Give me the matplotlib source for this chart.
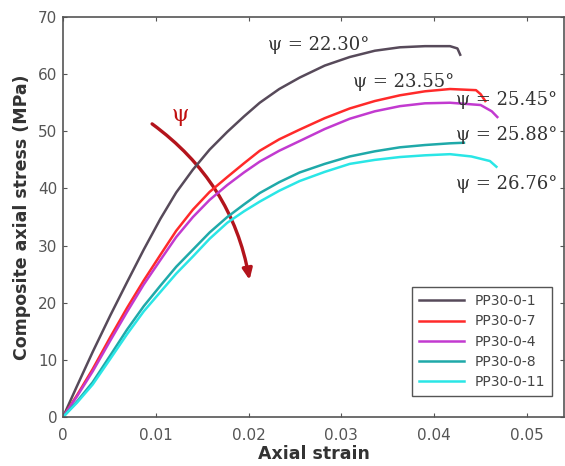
import numpy as np
import matplotlib
matplotlib.use("Agg")
import matplotlib.pyplot as plt
from matplotlib.patches import FancyArrowPatch

# stress-strain curves
strain = [0, 0.0015, 0.0032, 0.0051, 0.0069, 0.0087, 0.0105, 0.0122, 0.014, 0.0158, 0.0177,
          0.0195, 0.0212, 0.0233, 0.0255, 0.0282, 0.0309, 0.0336, 0.0363, 0.039, 0.0417]

eps_1 = strain + [0.0425, 0.0428]
sig_1 = [0, 5.4, 11.4, 17.8, 23.6, 29.3, 34.7, 39.3, 43.3, 46.8, 49.9,
         52.6, 55.0, 57.4, 59.4, 61.5, 63.0, 64.1, 64.7, 64.9, 64.9, 64.5, 63.4]

eps_7 = strain + [0.0445, 0.0450, 0.0455]
sig_7 = [0, 3.8, 8.4, 14.0, 19.1, 23.9, 28.4, 32.6, 36.3, 39.4, 42.0,
         44.4, 46.6, 48.6, 50.3, 52.3, 54.0, 55.3, 56.3, 57.0, 57.4, 57.2, 56.5, 55.3]

eps_4 = strain + [0.0450, 0.0462, 0.0468]
sig_4 = [0, 3.6, 8.0, 13.4, 18.4, 23.2, 27.5, 31.5, 35.0, 38.0, 40.6,
         42.8, 44.7, 46.6, 48.3, 50.4, 52.2, 53.5, 54.4, 54.9, 55.0, 54.6, 53.5, 52.5]

eps_8 = strain + [0.0432]
sig_8 = [0, 2.7, 6.1, 10.8, 15.3, 19.4, 23.0, 26.3, 29.3, 32.3, 35.0,
         37.2, 39.2, 41.1, 42.8, 44.3, 45.6, 46.5, 47.2, 47.6, 47.9, 48.0]

eps_11 = strain + [0.0440, 0.0460, 0.0467]
sig_11 = [0, 2.5, 5.7, 10.2, 14.5, 18.5, 21.9, 25.1, 28.1, 31.2, 34.0,
          36.0, 37.7, 39.6, 41.3, 42.9, 44.3, 45.0, 45.5, 45.8, 46.0, 45.6, 44.8, 43.8]

labels = ["PP30-0-1", "PP30-0-7", "PP30-0-4", "PP30-0-8", "PP30-0-11"]
colors = ["#574a5a", "#ff2a2a", "#c23ad0", "#1fa9a9", "#2ae6e6"]

psi_text = ["ψ = 22.30°", "ψ = 23.55°", "ψ = 25.45°", "ψ = 25.88°", "ψ = 26.76°"]
psi_x = [0.0221, 0.03125, 0.04235, 0.04235, 0.04235]
psi_y = [65.1, 58.7, 55.5, 49.4, 40.8]

fig = plt.figure(figsize=(5.65, 4.66), dpi=100)
ax = fig.add_axes([0.1115, 0.105, 0.887, 0.8585])

curves = [(eps_1, sig_1), (eps_7, sig_7), (eps_4, sig_4), (eps_8, sig_8), (eps_11, sig_11)]
for (e, s), c, lab in zip(curves, colors, labels):
    ax.plot(e, s, color=c, lw=1.8, label=lab, solid_joinstyle="round")

ax.set_xlim(0, 0.054)
ax.set_ylim(0, 70)
ax.set_xticks([0, 0.01, 0.02, 0.03, 0.04, 0.05])
ax.set_xticklabels(["0", "0.01", "0.02", "0.03", "0.04", "0.05"])
ax.set_yticks(range(0, 71, 10))
ax.tick_params(direction="in", top=True, right=True, length=3, labelsize=11,
               labelcolor="#555555", color="#555555")
ax.tick_params(axis="x", pad=8)
ax.tick_params(axis="y", pad=4)
for sp in ax.spines.values():
    sp.set_color("#555555")
    sp.set_linewidth(1.2)

ax.set_xlabel("Axial strain", fontsize=12.5, fontweight="bold", color="#333333", labelpad=1)
ax.set_ylabel("Composite axial stress (MPa)", fontsize=12.5, fontweight="bold",
              color="#333333", labelpad=5)

for t, x, y in zip(psi_text, psi_x, psi_y):
    ax.text(x, y, t, fontsize=13, family="DejaVu Serif", color="#333333", va="center")

# red arrow showing increasing psi
arr = FancyArrowPatch((0.0096, 51.3), (0.0201, 24.0), connectionstyle="arc3,rad=-0.2",
                      arrowstyle="-|>,head_length=4,head_width=1.8", color="#b3141c",
                      lw=2.4, mutation_scale=1.6, shrinkA=0, shrinkB=0)
ax.add_patch(arr)
ax.text(0.0126, 52.9, "ψ", fontsize=16, family="DejaVu Serif", color="#c01010",
        ha="center", va="center")

leg = ax.legend(loc="lower right", bbox_to_anchor=(0.99, 0.035), fontsize=10,
                fancybox=False, edgecolor="#555555", framealpha=1,
                handlelength=3.2, labelspacing=0.45, borderpad=0.5)
leg.get_frame().set_linewidth(1.0)
for t in leg.get_texts():
    t.set_color("#444444")

fig.savefig("out.png", dpi=100)
